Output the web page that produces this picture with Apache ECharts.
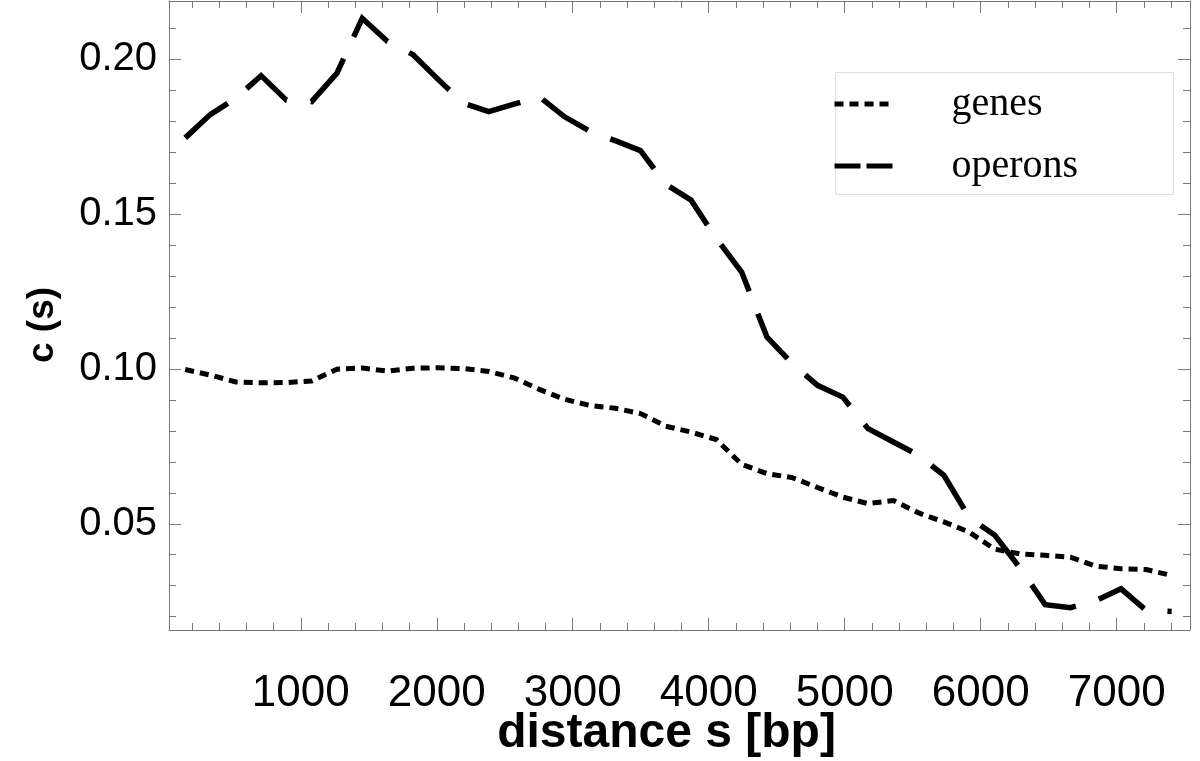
<!DOCTYPE html>
<html>
<head>
<meta charset="utf-8">
<script src="https://cdn.jsdelivr.net/npm/echarts@6/dist/echarts.min.js"></script>
<style>
html,body{margin:0;padding:0;background:#fff;}
#chart{width:1200px;height:761px;}
</style>
</head>
<body>
<div id="chart"></div>
<script>
// distance s [bp]
const distances = [150, 336, 522, 708, 894, 1080, 1266, 1452, 1638, 1824, 2010, 2196, 2382, 2568, 2754, 2940, 3126, 3312, 3498, 3684, 3870, 4056, 4242, 4428, 4614, 4800, 4986, 5172, 5358, 5544, 5730, 5916, 6102, 6288, 6474, 6660, 6846, 7032, 7218, 7404];
// c(s) for genes (dotted)
const genes = [0.0998, 0.0980, 0.0958, 0.0955, 0.0956, 0.0961, 0.0999, 0.1003, 0.0993, 0.1002, 0.1004, 0.1001, 0.0992, 0.0971, 0.0934, 0.0902, 0.0882, 0.0873, 0.0856, 0.0815, 0.0796, 0.0772, 0.0692, 0.0662, 0.0649, 0.0617, 0.0586, 0.0565, 0.0575, 0.0535, 0.0506, 0.0473, 0.0418, 0.0403, 0.0398, 0.0392, 0.0363, 0.0355, 0.0352, 0.0333];
// c(s) for operons (dashed)
const operons = [0.1746, 0.1822, 0.1874, 0.1947, 0.1868, 0.1863, 0.1955, 0.2132, 0.2057, 0.2015, 0.1935, 0.1858, 0.1831, 0.1855, 0.1879, 0.1814, 0.1768, 0.1737, 0.1705, 0.1596, 0.1545, 0.1421, 0.1313, 0.1103, 0.1017, 0.0947, 0.0909, 0.0807, 0.0764, 0.0721, 0.0656, 0.0520, 0.0464, 0.0358, 0.0239, 0.0229, 0.0252, 0.0290, 0.0220, 0.0217];

const seriesNames = ['genes', 'operons'];
const xMajorTicks = [1000, 2000, 3000, 4000, 5000, 6000, 7000];
const xMinorTicks = [200, 400, 600, 800, 1200, 1400, 1600, 1800, 2200, 2400, 2600, 2800, 3200, 3400, 3600, 3800, 4200, 4400, 4600, 4800, 5200, 5400, 5600, 5800, 6200, 6400, 6600, 6800, 7200, 7400];
const yMajorTicks = [0.05, 0.10, 0.15, 0.20];
const yMinorTicks = [0.02, 0.03, 0.04, 0.06, 0.07, 0.08, 0.09, 0.11, 0.12, 0.13, 0.14, 0.16, 0.17, 0.18, 0.19, 0.21];
const xTitle = 'distance s [bp]';
const yTitle = 'c (s)';

const X_MIN = 31, X_MAX = 7539, Y_MIN = 0.0157, Y_MAX = 0.2188;
const AXIS_COLOR = '#777';
const SANS = '"Liberation Sans", Arial, Helvetica, sans-serif';

function xAxisDef(position, ticks, len, showLine, showLabel, extra) {
  return Object.assign({
    type: 'value', position: position, min: X_MIN, max: X_MAX,
    axisLine: { show: showLine, onZero: false, lineStyle: { color: AXIS_COLOR, width: 1 } },
    axisTick: { show: true, inside: true, length: len, customValues: ticks, lineStyle: { color: AXIS_COLOR, width: 1 } },
    axisLabel: { show: showLabel, customValues: ticks, margin: 42, color: '#000', fontFamily: SANS, fontSize: 44,
      formatter: v => String(Math.round(v)) },
    splitLine: { show: false }, minorTick: { show: false }
  }, extra || {});
}
function yAxisDef(position, ticks, len, showLine, showLabel, extra) {
  return Object.assign({
    type: 'value', position: position, min: Y_MIN, max: Y_MAX,
    axisLine: { show: showLine, onZero: false, lineStyle: { color: AXIS_COLOR, width: 1 } },
    axisTick: { show: true, inside: true, length: len, customValues: ticks, lineStyle: { color: AXIS_COLOR, width: 1 } },
    axisLabel: { show: showLabel, customValues: ticks, margin: 12, color: '#000', fontFamily: SANS, fontSize: 40,
      formatter: v => v.toFixed(2) },
    splitLine: { show: false }, minorTick: { show: false }
  }, extra || {});
}

const chart = echarts.init(document.getElementById('chart'), null, { renderer: 'canvas' });
chart.setOption({
  animation: false,
  backgroundColor: '#fff',
  color: ['#000', '#000'],
  grid: { left: 169, right: 10, top: 1, bottom: 131, containLabel: false, outerBoundsMode: 'none' },
  xAxis: [
    xAxisDef('bottom', xMajorTicks, 12, true, true, {
      name: xTitle, nameLocation: 'middle', nameGap: 80, nameMoveOverlap: false,
      nameTextStyle: { fontFamily: SANS, fontWeight: 'bold', fontSize: 48, color: '#000', padding: [0, 26, 0, 0] }
    }),
    xAxisDef('bottom', xMinorTicks, 7, false, false),
    xAxisDef('top', xMajorTicks, 12, true, false),
    xAxisDef('top', xMinorTicks, 7, false, false)
  ],
  yAxis: [
    yAxisDef('left', yMajorTicks, 12, true, true, {
      name: yTitle, nameLocation: 'middle', nameGap: 108, nameRotate: 90, nameMoveOverlap: false,
      nameTextStyle: { fontFamily: SANS, fontWeight: 'bold', fontSize: 37, color: '#000', padding: [0, 19, 0, 0] }
    }),
    yAxisDef('left', yMinorTicks, 7, false, false),
    yAxisDef('right', yMajorTicks, 12, true, false),
    yAxisDef('right', yMinorTicks, 7, false, false)
  ],
  legend: {
    orient: 'vertical', left: 832, top: 83, padding: 0,
    itemWidth: 58, itemHeight: 14, itemGap: 20,
    itemStyle: { opacity: 0 },
    textStyle: { fontFamily: '"Liberation Serif", "Times New Roman", serif', fontSize: 40, color: '#000', lineHeight: 42, padding: [0, 0, 0, 54] },
    data: [
      { name: seriesNames[0], itemStyle: { opacity: 0 }, lineStyle: { type: [9, 6], width: 5, color: '#000', cap: 'butt' } },
      { name: seriesNames[1], itemStyle: { opacity: 0 }, lineStyle: { type: [26, 6], width: 5, color: '#000', cap: 'butt' } }
    ],
    z: 5
  },
  graphic: [{
    type: 'rect', left: 835, top: 72, z: 3,
    shape: { width: 338, height: 122 },
    style: { fill: '#fff', stroke: '#ddd', lineWidth: 1 }
  }],
  series: [
    {
      name: seriesNames[0], type: 'line', xAxisIndex: 0, yAxisIndex: 0,
      data: distances.map((d, i) => [d, genes[i]]),
      symbol: 'none', smooth: false, clip: true, color: '#000',
      lineStyle: { color: '#000', width: 5, type: [9, 6], cap: 'butt', join: 'miter' }
    },
    {
      name: seriesNames[1], type: 'line', xAxisIndex: 0, yAxisIndex: 0,
      data: distances.map((d, i) => [d, operons[i]]),
      symbol: 'none', smooth: false, clip: true, color: '#000',
      lineStyle: { color: '#000', width: 5.5, type: [55, 24], cap: 'butt', join: 'miter' }
    }
  ]
});
</script>
</body>
</html>
